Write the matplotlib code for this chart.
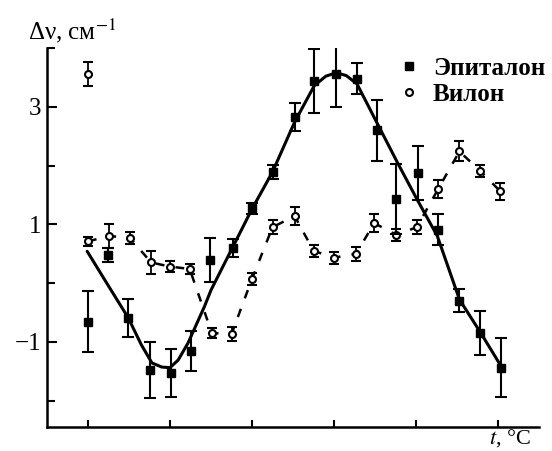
import matplotlib
matplotlib.use("Agg")
import matplotlib.pyplot as plt
from matplotlib.lines import Line2D
from matplotlib.ticker import FixedLocator, NullFormatter

plt.rcParams['font.family'] = ['Liberation Serif', 'DejaVu Serif']
plt.rcParams['mathtext.fontset'] = 'stix'

# Epitalon (filled squares)
epi_x = [0.0, 0.24, 0.49, 0.76, 1.01, 1.25, 1.49, 1.77, 2.0, 2.25, 2.52, 2.76,
         3.03, 3.28, 3.53, 3.76, 4.03, 4.27, 4.53, 4.78, 5.04]
epi_y = [-0.66, 0.47, -0.59, -1.48, -1.53, -1.15, 0.39, 0.6, 1.27, 1.89, 2.83, 3.44,
         3.56, 3.48, 2.6, 1.43, 1.87, 0.91, -0.3, -0.85, -1.44]
epi_err = [0.52, 0.12, 0.32, 0.47, 0.41, 0.34, 0.37, 0.15, 0.1, 0.12, 0.24, 0.54,
           0.56, 0.27, 0.52, 0.6, 0.46, 0.27, 0.2, 0.38, 0.5]

# Fitted curve for Epitalon
fit_x = [-0.01, 0.25, 0.49, 0.65, 0.78, 0.9, 1.0, 1.1, 1.22, 1.42, 1.5, 1.75, 2.0,
         2.25, 2.52, 2.76, 2.9, 3.03, 3.15, 3.28, 3.53, 3.77, 4.01, 4.26, 4.53, 4.79, 5.04]
fit_y = [0.54, -0.05, -0.59, -1.05, -1.36, -1.43, -1.44, -1.31, -1.02, -0.4, -0.12, 0.57, 1.26,
         1.89, 2.74, 3.36, 3.52, 3.58, 3.53, 3.39, 2.71, 2.06, 1.43, 0.8, -0.28, -0.85, -1.42]

# Vilon (open circles)
vil_x = [0.0, 0.26, 0.51, 0.77, 1.0, 1.24, 1.51, 1.75, 2.0, 2.25, 2.52, 2.75, 3.0,
         3.27, 3.49, 3.76, 4.01, 4.27, 4.53, 4.78, 5.03]
vil_y = [0.71, 0.8, 0.77, 0.35, 0.28, 0.24, -0.85, -0.87, 0.07, 0.95, 1.14, 0.55, 0.43,
         0.5, 1.02, 0.82, 0.95, 1.6, 2.24, 1.91, 1.56]
vil_err = [0.08, 0.2, 0.1, 0.2, 0.1, 0.08, 0.08, 0.12, 0.1, 0.12, 0.15, 0.1, 0.1,
           0.12, 0.15, 0.1, 0.12, 0.15, 0.17, 0.1, 0.15]
vil_out_x = [0.0]
vil_out_y = [3.56]
vil_out_err = [0.2]

y_major = [3, 1, -1]
y_major_labels = ["3", "1", "\u22121"]
y_minor = [4, 2, 0, -2]
x_major = [0, 1, 2, 3, 4, 5]

fig = plt.figure(figsize=(5.52, 4.51), dpi=100)
ax = fig.add_axes([47/552, 24/451, (539-47)/552, (427-48)/451])
ax.set_xlim(-0.5, 5.5)
ax.set_ylim(-2.45, 4.0)

# fit curve
ax.plot(fit_x, fit_y, color='black', lw=2.2, solid_capstyle='round', solid_joinstyle='round', zorder=3)

# Vilon dashed line + points
ax.plot(vil_x, vil_y, color='black', lw=1.8, dashes=(3.5, 4.5), zorder=2)
ax.errorbar(vil_x, vil_y, yerr=vil_err, fmt='o', ms=5, mfc='white', mec='black', mew=1.5,
            ecolor='black', elinewidth=1.3, capsize=3.5, capthick=1.5, zorder=4)
ax.errorbar(vil_out_x, vil_out_y, yerr=vil_out_err, fmt='o', ms=5, mfc='white', mec='black', mew=1.5,
            ecolor='black', elinewidth=1.3, capsize=3.5, capthick=1.5, zorder=4)

# Epitalon points
ax.errorbar(epi_x, epi_y, yerr=epi_err, fmt='s', ms=6, mfc='black', mec='black',
            ecolor='black', elinewidth=1.5, capsize=4, capthick=1.5, zorder=5)

for s in ['top', 'right']:
    ax.spines[s].set_visible(False)
for s in ['left', 'bottom']:
    ax.spines[s].set_linewidth(1.8)

ax.yaxis.set_major_locator(FixedLocator(y_major))
ax.set_yticklabels(y_major_labels, fontsize=18)
ax.yaxis.set_minor_locator(FixedLocator(y_minor))
ax.yaxis.set_minor_formatter(NullFormatter())
ax.tick_params(axis='y', which='major', direction='in', length=7, width=1.5, pad=4)
ax.tick_params(axis='y', which='minor', direction='in', length=6, width=1.5)

ax.xaxis.set_major_locator(FixedLocator(x_major))
ax.xaxis.set_major_formatter(NullFormatter())
ax.tick_params(axis='x', which='major', direction='in', length=5, width=1.5)

fig.text(28/552, 1 - 39/451, "\u0394\u03bd, см$^{-1}$", fontsize=18, ha='left', va='baseline')
fig.text(489/552, 1 - 444/451, "$t$, °C", fontsize=16, ha='left', va='baseline')

handles = [Line2D([], [], ls='none', marker='s', ms=6, mfc='black', mec='black'),
           Line2D([], [], ls='none', marker='o', ms=5, mfc='white', mec='black', mew=1.5)]
leg = ax.legend(handles, ["Эпиталон", "Вилон"], loc='upper left',
                bbox_to_anchor=(399/552, 1 - 57/451), bbox_transform=fig.transFigure,
                frameon=False, handlelength=0.8, handletextpad=0.55, labelspacing=0.12,
                borderpad=0, borderaxespad=0,
                prop={'family': 'Liberation Serif', 'size': 18, 'weight': 'bold'})

fig.savefig("out.png", dpi=100)
